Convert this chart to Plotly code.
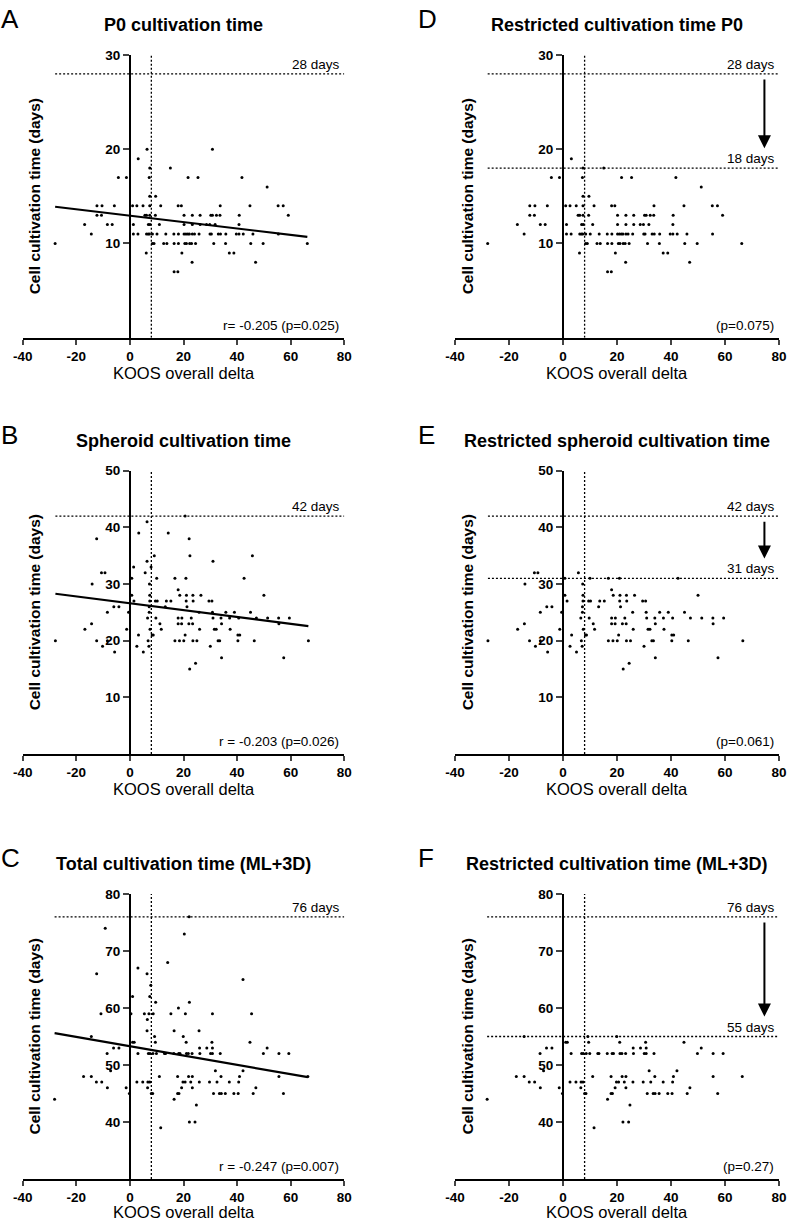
import plotly.graph_objects as go

W, H = 787, 1221

# ---------------- data ----------------
# KOOS overall delta values grouped by cultivation time (days)
P0_POINTS = {
    20: [6.4, 30.8],
    19: [3.1],
    18: [7.4, 15.1],
    17: [-4.3, -1.3, 7.2, 21.7, 25.4, 41.8],
    16: [51.2],
    15: [7.4, 9.6],
    14: [-12.3, -10.4, -5.8, 1.0, 2.6, 4.9, 7.4, 11.5, 18.0, 19.2, 33.7, 44.8, 55.3, 57.2],
    13: [-12.3, -10.6, 5.6, 6.2, 7.4, 9.5, 20.2, 23.3, 26.2, 30.2, 30.8, 32.3, 33.6, 40.8, 59.1],
    12: [-16.9, -8.4, -6.6, 1.3, 6.9, 7.5, 11.0, 20.2, 23.3, 26.2, 28.6, 29.8, 31.8, 40.7],
    11: [-14.4, 1.3, 3.0, 6.2, 6.8, 7.3, 8.4, 10.1, 13.4, 16.4, 18.1, 20.2, 20.9, 21.6, 22.2,
         23.3, 24.1, 25.8, 29.9, 30.4, 33.0, 33.8, 35.8, 39.7, 40.7, 42.3, 45.9, 55.4],
    10: [-27.9, 8.4, 9.0, 12.6, 13.8, 16.5, 18.1, 20.5, 21.1, 22.3, 23.0, 24.5, 31.3, 35.7,
         45.1, 49.7, 66.2],
    9: [6.1, 19.4, 37.1, 38.8],
    8: [23.2, 46.9],
    7: [16.5, 17.9],
}

SPHEROID_POINTS = {
    42: [20.6],
    41: [6.4],
    39: [3.3, 14.3],
    38: [-12.4, 22.1],
    35: [9.1, 22.4, 45.7],
    34: [6.4, 31.0],
    33: [1.4, 7.9],
    32: [-10.6, -9.3, 5.7],
    31: [0.7, 10.0, 16.8, 20.9, 42.6],
    30: [-14.1, 7.3],
    29: [18.0],
    28: [0.7, 7.4, 18.6, 21.1, 23.5, 26.5, 50.0],
    27: [1.5, 7.4, 9.5, 10.2, 13.6, 15.3, 21.0, 23.6, 29.5, 30.6],
    26: [-6.0, -4.1, 7.2, 13.2, 21.3],
    25: [-8.4, -0.5, 7.2, 25.8, 30.8, 35.8, 39.0, 45.0],
    24: [6.6, 9.7, 18.0, 19.4, 22.9, 31.0, 34.0, 37.2, 40.6, 47.2, 51.4, 55.5, 59.5],
    23: [-14.3, 11.2, 18.0, 19.3, 22.0, 23.4, 34.2, 55.6],
    22: [-16.8, -1.2, 7.5, 11.7, 26.0, 31.5, 32.2, 37.4],
    21: [3.2, 8.3, 8.7, 20.6, 40.3, 41.0],
    20: [-27.8, -12.4, -8.4, 6.8, 16.8, 18.5, 20.1, 23.5, 25.0, 32.9, 33.5, 40.3, 46.4, 66.6],
    19: [-10.2, 2.6, 7.1, 30.0],
    18: [-5.7, 5.0],
    17: [34.2, 57.4],
    16: [24.5],
    15: [22.3],
}

TOTAL_POINTS = {
    76: [22.1],
    74: [-9.2],
    73: [20.3],
    68: [14.1],
    67: [3.0],
    66: [-12.4, 6.4],
    65: [42.2],
    64: [7.8],
    62: [1.0, 7.4],
    61: [9.6, 22.2],
    60: [18.1],
    59: [-10.8, 0.4, 5.4, 7.1, 8.7, 15.3, 20.7, 30.8, 45.4],
    58: [6.5],
    56: [6.4, 16.5, 25.8],
    55: [-14.4, 9.2, 19.9],
    54: [1.0, 1.6, 9.5, 21.0, 30.6, 44.8],
    53: [-6.1, -4.1, 26.0, 28.7, 30.8, 51.2],
    52: [-8.5, 3.0, 6.9, 7.5, 8.6, 9.9, 12.9, 13.3, 16.4, 18.2, 18.7, 21.1, 21.8, 23.2, 26.1,
         30.1, 30.8, 33.7, 49.8, 55.6, 59.3],
    49: [-7.2, 31.9, 42.2],
    48: [-17.3, -14.4, 11.0, 17.8, 21.9, 23.3, 34.0, 40.9, 55.6, 66.4],
    47: [-12.5, -10.5, 2.6, 4.8, 6.7, 7.4, 19.8, 20.6, 22.7, 25.9, 29.7, 32.5, 37.1, 40.6],
    46: [-8.4, -1.4, 6.6, 19.3, 23.3, 47.0],
    45: [-0.2, 8.0, 8.5, 17.8, 18.3, 31.2, 33.4, 34.1, 35.6, 38.8, 40.4, 46.0, 57.3],
    44: [-28.1, 16.5],
    43: [24.8],
    40: [22.2, 24.3],
    39: [11.5],
}

# linear regression lines as printed (slope, intercept)
FIT_SLOPES = [-0.034, -0.0606, -0.0819]
FIT_INTERCEPTS = [12.95, 26.6, 53.3]

# largest value kept in the restricted panels
P0_RESTRICT_MAX = 19
SPHEROID_RESTRICT_MAX = 32
TOTAL_RESTRICT_MAX = 55

# reference lines (days) and KOOS threshold
P0_LIMIT, P0_RESTRICTED_LIMIT = 28, 18
SPHEROID_LIMIT, SPHEROID_RESTRICTED_LIMIT = 42, 31
TOTAL_LIMIT, TOTAL_RESTRICTED_LIMIT = 76, 55
KOOS_THRESHOLD = 8

X_TICKS = [-40, -20, 0, 20, 40, 60, 80]
P0_YTICKS = [10, 20, 30]
SPHEROID_YTICKS = [10, 20, 30, 40, 50]
TOTAL_YTICKS = [40, 50, 60, 70, 80]

TITLES = ["P0 cultivation time", "Spheroid cultivation time", "Total cultivation time (ML+3D)",
          "Restricted cultivation time P0", "Restricted spheroid cultivation time",
          "Restricted cultivation time (ML+3D)"]
LETTERS = ["A", "B", "C", "D", "E", "F"]
STATS = ["r= -0.205 (p=0.025)", "r = -0.203 (p=0.026)", "r = -0.247 (p=0.007)",
         "(p=0.075)", "(p=0.061)", "(p=0.27)"]


def flatten(points, ymax=None):
    xs, ys = [], []
    for day, vals in points.items():
        if ymax is not None and day > ymax:
            continue
        for v in vals:
            xs.append(v)
            ys.append(day)
    return xs, ys


# ---------------- layout geometry (pixels) ----------------
FONT = "Liberation Sans, Arial, sans-serif"
COLS = [(22.7, 344.3), (455.0, 779.0)]
ROWS = [(55.0, 337.7), (470.7, 754.0), (894.0, 1179.0)]
YRANGES = [[0, 30], [0, 50], [30, 80]]


def px(p):
    return p / W


def py(p):
    return 1 - p / H


rows_data = [
    (P0_POINTS, P0_RESTRICT_MAX, P0_LIMIT, P0_RESTRICTED_LIMIT, P0_YTICKS),
    (SPHEROID_POINTS, SPHEROID_RESTRICT_MAX, SPHEROID_LIMIT, SPHEROID_RESTRICTED_LIMIT, SPHEROID_YTICKS),
    (TOTAL_POINTS, TOTAL_RESTRICT_MAX, TOTAL_LIMIT, TOTAL_RESTRICTED_LIMIT, TOTAL_YTICKS),
]

fig = go.Figure()
layout = dict(
    width=W, height=H, margin=dict(l=0, r=0, t=0, b=0, autoexpand=False),
    paper_bgcolor="white", plot_bgcolor="white", showlegend=False,
    font=dict(family=FONT, color="black"),
)
annotations = []
DOT = dict(color="black", width=1.3, dash="2px,2px")
TICKFONT = dict(size=13.5, family=FONT, color="black")

for col in range(2):
    for row in range(3):
        idx = col * 3 + row
        n = idx + 1
        xa = "x" if n == 1 else f"x{n}"
        ya = "y" if n == 1 else f"y{n}"
        points, rmax, limit, rlimit, yticks = rows_data[row]
        restricted = col == 1
        xs, ys = flatten(points, rmax if restricted else None)
        x0p, x1p = COLS[col]
        t0p, b0p = ROWS[row]
        yr = YRANGES[row]
        span = yr[1] - yr[0]

        layout[f"xaxis{n}"] = dict(
            domain=[px(x0p), px(x1p)], range=[-40, 80], anchor=ya,
            tickvals=X_TICKS, ticktext=[f"<b>{v}</b>" for v in X_TICKS],
            ticks="outside", ticklen=5, tickwidth=2,
            showline=True, linewidth=2, linecolor="black", showgrid=False, zeroline=False,
            tickfont=TICKFONT,
        )
        layout[f"yaxis{n}"] = dict(
            domain=[py(b0p), py(t0p)], range=yr, anchor="free",
            position=px(x0p + (x1p - x0p) * 40 / 120),
            tickvals=yticks, ticktext=[f"<b>{v}</b>" for v in yticks],
            ticks="outside", ticklen=6, tickwidth=2,
            showline=True, linewidth=2, linecolor="black", showgrid=False, zeroline=False,
            tickfont=TICKFONT,
        )

        # dotted reference lines
        fig.add_trace(go.Scatter(x=[min(xs), 80], y=[limit, limit], mode="lines", line=DOT,
                                 xaxis=xa, yaxis=ya, hoverinfo="skip"))
        if restricted:
            fig.add_trace(go.Scatter(x=[min(xs), 80], y=[rlimit, rlimit], mode="lines", line=DOT,
                                     xaxis=xa, yaxis=ya, hoverinfo="skip"))
        fig.add_trace(go.Scatter(x=[KOOS_THRESHOLD, KOOS_THRESHOLD], y=yr, mode="lines", line=DOT,
                                 xaxis=xa, yaxis=ya, hoverinfo="skip"))

        # regression line (left column)
        if not restricted:
            k, b = FIT_SLOPES[row], FIT_INTERCEPTS[row]
            lx = [min(xs), max(xs)]
            fig.add_trace(go.Scatter(x=lx, y=[k * v + b for v in lx], mode="lines",
                                     line=dict(color="black", width=2.2),
                                     xaxis=xa, yaxis=ya, hoverinfo="skip"))

        fig.add_trace(go.Scatter(x=xs, y=ys, mode="markers",
                                 marker=dict(size=3, color="black", line=dict(width=0)),
                                 xaxis=xa, yaxis=ya, cliponaxis=False))

        # labels
        cx = px((x0p + x1p) / 2)
        annotations.append(dict(text=f"<b>{TITLES[idx]}</b>", x=cx, y=py(t0p - 30),
                                xref="paper", yref="paper", xanchor="center", yanchor="middle",
                                showarrow=False, font=dict(size=18, family=FONT)))
        annotations.append(dict(text=LETTERS[idx], x=px(-1 if col == 0 else 416), y=py(t0p - 53),
                                xref="paper", yref="paper", xanchor="left", yanchor="top",
                                showarrow=False, font=dict(size=26, family=FONT)))
        annotations.append(dict(text="<b>Cell cultivation time (days)</b>",
                                x=px(34 if col == 0 else 467), y=py((t0p + b0p) / 2),
                                xref="paper", yref="paper", xanchor="center", yanchor="middle",
                                textangle=-90, showarrow=False,
                                font=dict(size=15.5, family=FONT)))
        annotations.append(dict(text="KOOS overall delta", x=cx, y=py(min(b0p + 35, 1211.5)),
                                xref="paper", yref="paper", xanchor="center", yanchor="middle",
                                showarrow=False, font=dict(size=16.5, family=FONT)))
        annotations.append(dict(text=f"{limit} days", x=80, y=limit, xref=xa, yref=ya,
                                xanchor="right", yanchor="bottom", xshift=-2, yshift=0,
                                showarrow=False, font=dict(size=13.5, family=FONT)))
        if restricted:
            annotations.append(dict(text=f"{rlimit} days", x=80, y=rlimit, xref=xa, yref=ya,
                                    xanchor="right", yanchor="bottom", xshift=-2, yshift=0,
                                    showarrow=False, font=dict(size=13.5, family=FONT)))
            annotations.append(dict(text="", x=74.6, y=rlimit + 0.07 * span,
                                    ax=74.6, ay=limit - 0.015 * span,
                                    xref=xa, yref=ya, axref=xa, ayref=ya,
                                    showarrow=True, arrowhead=2, arrowsize=1.3,
                                    arrowwidth=2, arrowcolor="black"))
        annotations.append(dict(text=STATS[idx], x=80, y=py(b0p - 12.5), xref=xa, yref="paper",
                                xanchor="right", yanchor="middle", xshift=-3,
                                showarrow=False, font=dict(size=13.5, family=FONT)))

layout["annotations"] = annotations
fig.update_layout(**layout)
fig.write_html("out.html", config={"displayModeBar": False},
               post_script="document.body.style.margin='0px';")
